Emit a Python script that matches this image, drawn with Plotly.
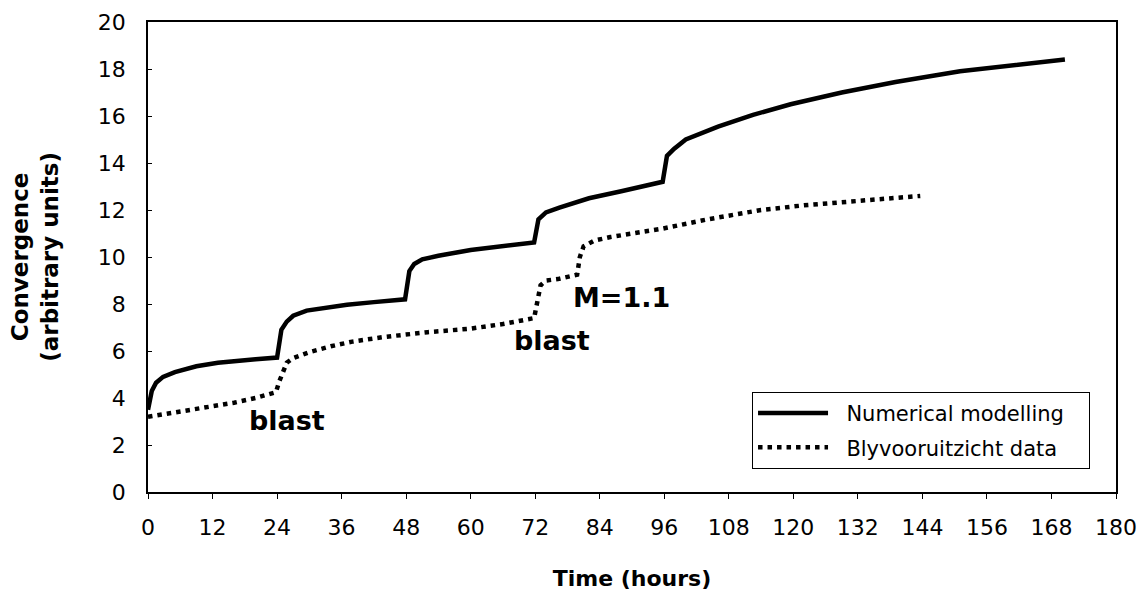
import plotly.graph_objects as go

# Numerical modelling (solid)
model_t = [0, 0.7, 1.5, 2.8, 5, 9, 13, 17, 20, 24,
           24.8, 25.8, 27, 29.5, 33, 37, 42, 47.8,
           48.6, 49.5, 51, 54, 60, 66, 71.8,
           72.6, 74, 76.5, 82, 88, 95.7,
           96.5, 97.8, 100, 106, 112.5, 119.5, 129, 139, 151, 160, 170.5]
model_c = [3.5, 4.3, 4.65, 4.9, 5.1, 5.35, 5.5, 5.6, 5.65, 5.72,
           6.9, 7.25, 7.5, 7.72, 7.85, 7.97, 8.08, 8.2,
           9.4, 9.7, 9.9, 10.05, 10.3, 10.48, 10.62,
           11.6, 11.9, 12.1, 12.5, 12.8, 13.2,
           14.3, 14.6, 15.0, 15.55, 16.05, 16.5, 17.0, 17.45, 17.9, 18.15, 18.4]

# Blyvooruitzicht data (dotted)
data_t = [0, 4, 8, 12, 16, 20, 23.8,
          24.4, 25, 25.8, 27, 30, 34, 38, 44, 52, 60, 66, 71.8,
          72.4, 73, 74, 76.2, 79.8,
          80.3, 81, 83, 86, 90, 95.5, 104, 114, 122, 130, 137, 143.6]
data_c = [3.2, 3.35, 3.5, 3.65, 3.8, 4.0, 4.25,
          4.7, 5.1, 5.5, 5.7, 5.95, 6.2, 6.4, 6.6, 6.8, 6.95, 7.15, 7.4,
          8.2, 8.8, 9.0, 9.06, 9.25,
          10.0, 10.45, 10.7, 10.85, 11.0, 11.2, 11.6, 12.0, 12.2, 12.35, 12.5, 12.6]

x_ticks = list(range(0, 181, 12))
y_ticks = list(range(0, 21, 2))

# annotations: text, x, y
notes_text = ["blast", "blast", "M=1.1"]
notes_x = [25.8, 75.1, 88.1]
notes_y = [3.05, 6.43, 8.26]

FONT = "DejaVu Sans"
PAD = "\u00a0\u00a0"
TAIL = "\u00a0\u00a0\u00a0"

fig = go.Figure()
fig.add_trace(go.Scatter(x=model_t, y=model_c, mode="lines",
                         name=PAD + "Numerical modelling" + TAIL,
                         legendgroup="a",
                         line=dict(color="black", width=4.5)))
fig.add_trace(go.Scatter(x=data_t, y=data_c, mode="lines",
                         name=PAD + "Blyvooruitzicht data" + TAIL,
                         legendgroup="b",
                         line=dict(color="black", width=4.5, dash="4.5px,5px")))

for t, xv, yv in zip(notes_text, notes_x, notes_y):
    fig.add_annotation(x=xv, y=yv, text="<b>%s</b>" % t, showarrow=False,
                       xanchor="center", yanchor="middle",
                       font=dict(family=FONT, size=27, color="black"))

fig.add_annotation(xref="paper", yref="paper", x=-0.117, y=0.5,
                   text="<b>Convergence<br>(arbitrary units)</b>", textangle=-90,
                   showarrow=False, xanchor="center", yanchor="middle",
                   font=dict(family=FONT, size=23, color="black"))

fig.update_layout(
    width=1130, height=583,
    margin=dict(l=140, r=22, t=14, b=99, autoexpand=False),
    paper_bgcolor="white", plot_bgcolor="white",
    showlegend=True,
    legend=dict(x=0.624, y=0.213, xanchor="left", yanchor="top",
                bordercolor="black", borderwidth=1, bgcolor="white",
                font=dict(family=FONT, size=21, color="black"),
                itemwidth=70, tracegroupgap=4),
    xaxis=dict(range=[0, 180], tickvals=x_ticks, ticktext=[str(v) for v in x_ticks],
               automargin=False,
               showgrid=False, zeroline=False, showline=True, linecolor="black",
               linewidth=1.5, mirror=True, ticks="outside", ticklen=5, tickcolor="black",
               tickfont=dict(family=FONT, size=22, color="black"),
               ticklabelstandoff=10,
               title=dict(text="<b>Time (hours)</b>", standoff=32,
                          font=dict(family=FONT, size=22, color="black"))),
    yaxis=dict(range=[0, 20], tickvals=y_ticks, ticktext=[str(v) for v in y_ticks],
               automargin=False,
               showgrid=False, zeroline=False, showline=True, linecolor="black",
               linewidth=1.5, mirror=True, ticks="inside", ticklen=4, tickcolor="black",
               tickfont=dict(family=FONT, size=22, color="black"),
               ticklabelstandoff=16),
)

fig.write_html("out.html")
